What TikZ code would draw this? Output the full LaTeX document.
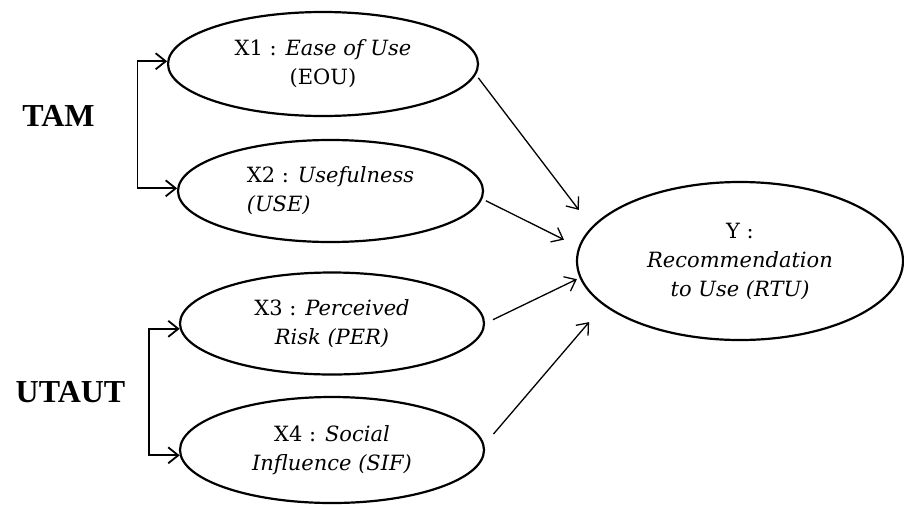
\documentclass[tikz,border=0pt]{standalone}
\usepackage{fontspec}
\setmainfont{Liberation Serif}
\newfontfamily\constructfont{DejaVu Serif}
\usetikzlibrary{
  arrows.meta,
  shapes.geometric
}
\tikzset{
  construct/.style={
    draw, ellipse, line width=1.1pt, inner sep=0pt, align=center,
    font=\constructfont\fontsize{10.5}{14.5}\selectfont
  },
  modellabel/.style={font=\fontsize{16}{18}\selectfont\bfseries},
  effect/.style={-{Straight Barb[length=5pt, width=8pt]}, line width=0.65pt},
  group/.style={{Straight Barb[length=5pt, width=8pt]}-{Straight Barb[length=5pt, width=8pt]}, line width=0.9pt}
}

\begin{document}
\begin{tikzpicture}[x=0.5pt, y=-0.5pt]
  \useasboundingbox (0,0) rectangle (904,504);
  % constructs
  \node[construct, minimum width=155pt, minimum height=52pt] (eou) at (323,64)
    {X1 : \textit{Ease of Use}\\(EOU)};
  \node[construct, align=left, minimum width=152.5pt, minimum height=51pt] (use) at (330.5,191)
    {X2 : \textit{Usefulness}\\\textit{(USE)}};
  \node[construct, minimum width=152pt, minimum height=51pt] (per) at (332,323.5)
    {X3 : \textit{Perceived}\\\textit{Risk (PER)}};
  \node[construct, minimum width=152pt, minimum height=53pt] (sif) at (332,450)
    {X4 : \textit{Social}\\\textit{Influence (SIF)}};
  \node[construct, minimum width=163pt, minimum height=79pt] (rtu) at (740,261)
    {Y :\\\textit{Recommendation}\\\textit{to Use (RTU)}};
  % model groups
  \node[modellabel] (tam) at (58.5,116) {TAM};
  \node[modellabel] (utaut) at (70.5,392.5) {UTAUT};
  \draw[group] (eou.179) -- ++(-29.7,0) |- (use.179);
  \draw[group] (per.182.5) -- ++(-31,0) |- (sif.182.5);
  % effects on Y
  \foreach \src/\a/\b/\sa/\sb in {eou/-4.8/167.8/2/10.6, use/-3/175.1/2/8.1,
                                   per/0/186/4.4/1.5, sif/2.5/198.2/7/11}{
    \draw[effect, shorten <=\sa pt, shorten >=\sb pt] (\src.\a) -- (rtu.\b);
  }
\end{tikzpicture}
\end{document}
